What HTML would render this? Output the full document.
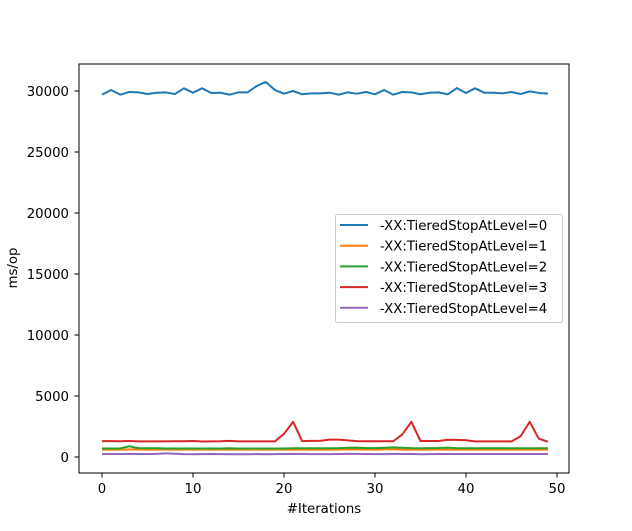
<!DOCTYPE html>
<html><head><meta charset="utf-8"><style>
body{margin:0;background:#fff;}
svg{display:block;font-family:"DejaVu Sans","Liberation Sans",sans-serif;}
</style></head><body>
<svg id="chart" width="632" height="531" viewBox="0 0 632 531"></svg>
<script>
const iterations = Array.from({length:50},(_,i)=>i);
const level0 = [29700,30080,29700,29920,29890,29750,29860,29890,29750,30220,29860,30220,29840,29860,29700,29890,29890,30410,30740,30080,29780,30000,29730,29810,29810,29860,29700,29890,29780,29920,29730,30080,29700,29920,29890,29730,29860,29890,29730,30240,29840,30220,29860,29860,29810,29920,29750,29970,29840,29780];
const level1 = [600,600,600,620,600,600,600,600,600,600,600,600,600,600,600,600,600,600,600,600,600,600,600,600,600,600,600,620,620,600,600,620,620,600,600,600,600,600,600,600,600,600,600,600,600,600,600,600,600,600];
const level2 = [700,700,700,880,720,720,720,700,700,700,700,700,700,700,720,700,700,700,700,700,700,720,720,720,720,720,730,760,770,730,730,760,790,760,730,720,730,740,770,720,720,720,720,720,720,720,720,720,720,720];
const level3 = [1300,1300,1290,1310,1280,1280,1280,1280,1290,1290,1310,1270,1280,1290,1320,1280,1280,1280,1280,1280,1900,2880,1300,1320,1330,1420,1420,1360,1300,1290,1290,1290,1290,1850,2880,1310,1310,1310,1410,1400,1370,1280,1280,1280,1280,1280,1700,2880,1500,1250];
const level4 = [250,250,250,250,250,250,260,300,270,240,230,240,250,240,230,240,230,240,230,240,250,260,250,240,240,240,250,260,260,250,240,240,250,250,260,230,240,250,250,250,250,250,250,250,250,250,250,250,250,250];
const seriesNames = ["-XX:TieredStopAtLevel=0","-XX:TieredStopAtLevel=1","-XX:TieredStopAtLevel=2","-XX:TieredStopAtLevel=3","-XX:TieredStopAtLevel=4"];
const xTicks = [0,10,20,30,40,50];
const yTicks = [0,5000,10000,15000,20000,25000,30000];

const svg=document.getElementById('chart');
const NS='http://www.w3.org/2000/svg';
const colors=['#1f77b4','#ff7f0e','#2ca02c','#d62728','#9467bd'];
const L=79,R=569,T=64,B=473;
const FS=13.3;
const sx=v=>102+(v-0)*(557-102)/50;
const sy=v=>457-v*(457-91)/30000;
function mk(tag,attrs){const e=document.createElementNS(NS,tag);for(const k in attrs)e.setAttribute(k,attrs[k]);svg.appendChild(e);return e;}

const series=[level0,level1,level2,level3,level4];
series.forEach((vals,si)=>{
  const p=mk('polyline',{points:vals.map((v,i)=>sx(iterations[i])+','+sy(v)).join(' '),fill:'none',stroke:colors[si],'stroke-width':2,'stroke-linejoin':'round'});
  
  
});

const frame=mk('rect',{x:L,y:T,width:R-L,height:B-T,fill:'none',stroke:'#000','stroke-width':1});



xTicks.forEach(t=>{
  const x=sx(t);
  mk('line',{x1:x,x2:x,y1:B,y2:B+4.5,stroke:'#000','stroke-width':1});
  const tx=mk('text',{x:x,y:493,'text-anchor':'middle','font-size':FS});
  tx.textContent=t;
  
  
});
yTicks.forEach(t=>{
  const y=sy(t);
  mk('line',{x1:L-4.5,x2:L,y1:y,y2:y,stroke:'#000','stroke-width':1});
  const tx=mk('text',{x:L-10,y:y+5,'text-anchor':'end','font-size':FS});
  tx.textContent=t;
  
  
});
const xt=mk('text',{x:(L+R)/2,y:513,'text-anchor':'middle','font-size':FS});
xt.textContent='#Iterations';


const yt=mk('text',{x:0,y:0,'text-anchor':'middle','font-size':FS,transform:'translate(17,268) rotate(-90)'});
yt.textContent='ms/op';



const lg=mk('rect',{x:335.5,y:214.5,width:227,height:108,rx:2,fill:'#fff','fill-opacity':0.8,stroke:'#ccc','stroke-width':1});


seriesNames.forEach((n,i)=>{
  const y=225+i*20.7;
  mk('line',{x1:340,x2:368,y1:y,y2:y,stroke:colors[i],'stroke-width':2});
  const tx=mk('text',{x:380,y:y+5,'font-size':FS});
  tx.textContent=n;
  
  
});
</script>
</body></html>
